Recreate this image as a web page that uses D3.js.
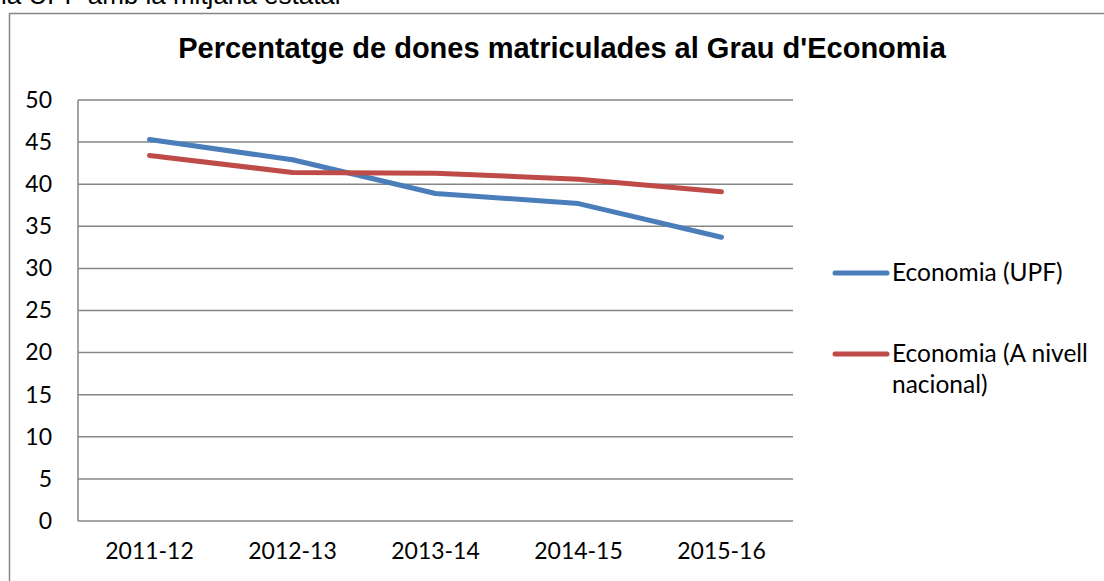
<!DOCTYPE html>
<html>
<head>
<meta charset="utf-8">
<script src="https://cdn.jsdelivr.net/npm/d3@7"></script>
<style>
body { margin: 0; background: #fff; }
svg { display: block; }
</style>
</head>
<body>
<div id="chart"></div>
<script>
var cursos = ["2011-12", "2012-13", "2013-14", "2014-15", "2015-16"];
var upf = [45.3, 42.9, 38.9, 37.7, 33.7];
var nacional = [43.4, 41.4, 41.3, 40.6, 39.1];
var yTicks = [0, 5, 10, 15, 20, 25, 30, 35, 40, 45, 50];

var series = [
    {name: ["Economia (UPF)"], values: upf, color: "#4a7ebb"},
    {name: ["Economia (A nivell", "nacional)"], values: nacional, color: "#be4b48"}
];

var width = 1104, height = 581;
var svg = d3.select("#chart").append("svg")
    .attr("width", width)
    .attr("height", height);

// text cut at the top of the page
svg.append("text")
    .attr("x", 1).attr("y", 4)
    .style("font-family", "Liberation Sans, Arial")
    .style("font-size", "26px")
    .text("la UPF amb la mitjana estatal");

// chart frame
svg.append("path")
    .attr("d", "M9.5," + height + "V13.5H" + width)
    .attr("fill", "none")
    .attr("stroke", "#868686")
    .attr("stroke-width", 1.5);

svg.append("text")
    .attr("x", 562).attr("y", 58)
    .attr("text-anchor", "middle")
    .style("font-family", "Liberation Sans, Arial")
    .style("font-weight", "bold")
    .style("font-size", "29px")
    .text("Percentatge de dones matriculades al Grau d'Economia");

var x = d3.scaleBand().domain(cursos).range([78, 793]);
var y = d3.scaleLinear().domain([0, 50]).range([521, 100]);

var grid = svg.append("g");
grid.selectAll("line").data(yTicks).enter().append("line")
    .attr("x1", 78).attr("x2", 793)
    .attr("y1", function(d){ return y(d); })
    .attr("y2", function(d){ return y(d); })
    .attr("stroke", "#868686")
    .attr("stroke-width", 1.5);
grid.append("line")
    .attr("x1", 78).attr("x2", 78)
    .attr("y1", y(50)).attr("y2", y(0))
    .attr("stroke", "#868686")
    .attr("stroke-width", 1.5);

var yAxis = svg.append("g").attr("transform", "translate(52,0)")
    .call(d3.axisLeft(y).tickValues(yTicks).tickSize(0).tickPadding(0));
yAxis.select(".domain").remove();
yAxis.selectAll("text")
    .style("font-family", "Lato")
    .style("font-size", "23px")
    .attr("fill", "#000");

var xAxis = svg.append("g").attr("transform", "translate(0,521)")
    .call(d3.axisBottom(x).tickSize(0).tickPadding(22));
xAxis.select(".domain").remove();
xAxis.selectAll("text")
    .style("font-family", "Lato")
    .style("font-size", "23px")
    .attr("fill", "#000");

var line = d3.line()
    .x(function(d, i){ return x(cursos[i]) + x.bandwidth() / 2; })
    .y(function(d){ return y(d); });

svg.selectAll(".serie").data(series).enter().append("path")
    .attr("class", "serie")
    .attr("d", function(d){ return line(d.values); })
    .attr("fill", "none")
    .attr("stroke", function(d){ return d.color; })
    .attr("stroke-width", 5)
    .attr("stroke-linecap", "round")
    .attr("stroke-linejoin", "round");

// legend
var legend = svg.selectAll(".legend").data(series).enter().append("g")
    .attr("class", "legend")
    .attr("transform", function(d, i){ return "translate(0," + (273 + i * 81) + ")"; });
legend.append("line")
    .attr("x1", 835).attr("x2", 887)
    .attr("stroke", function(d){ return d.color; })
    .attr("stroke-width", 5)
    .attr("stroke-linecap", "round");
legend.append("text")
    .attr("x", 892)
    .style("font-family", "Lato")
    .style("font-size", "24.5px")
    .selectAll("tspan").data(function(d){ return d.name; }).enter().append("tspan")
    .attr("x", 892)
    .attr("y", function(d, i){ return 8 + i * 31; })
    .text(function(d){ return d; });
</script>
</body>
</html>
